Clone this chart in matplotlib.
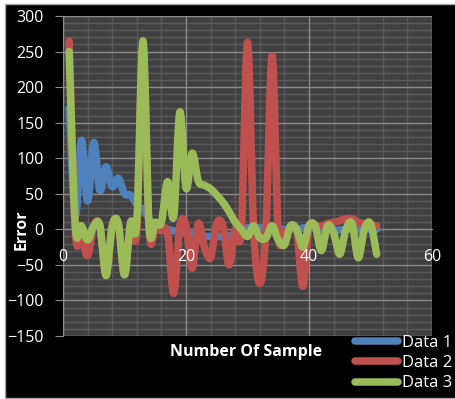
import numpy as np
import matplotlib.pyplot as plt
from matplotlib.path import Path
from matplotlib.patches import PathPatch, Rectangle
from matplotlib.lines import Line2D
from matplotlib.ticker import MultipleLocator

plt.rcParams['font.family'] = ['Open Sans', 'DejaVu Sans']

# sample index
samples = np.arange(1, 52)

data1 = [170, 20, 125, 40, 122, 55, 88, 60, 72, 50,
         48, 35, 28, 15, 5, 2, 0, -2, -3, -5,
         -7, -8, -10, -10, -10, -10, -10, -5, 0, 2,
         2, 2, 2, 2, 0, 0, 0, 0, 2, 2,
         2, 0, 0, -1, -1, 0, 0, 0, 0, 0,
         0]
data2 = [265, -3, -10, -37, 5, 5, -65, 5, 8, -64,
         8, -3, 255, -3, 0, -2, -5, -90, 5, 5,
         -55, 8, -25, -40, 8, 5, -50, 0, 0, 263,
         0, -76, 0, 244, -5, -3, 0, -3, -80, 3,
         5, 5, 8, 10, 12, 15, 15, 10, 8, 6,
         5]
data3 = [250, 5, 5, -15, 5, 5, -65, 5, 8, -64,
         10, 10, 265, 5, 10, 10, 67, 18, 165, 58,
         107, 68, 62, 57, 48, 38, 25, 10, 0, -10,
         5, -12, -12, 5, -15, -22, 5, 0, -25, 5,
         5, -30, 5, -5, -35, 0, 8, -40, 0, 8,
         -35]

series = [('Data 1', data1, '#4f81bd'),
          ('Data 2', data2, '#c0504d'),
          ('Data 3', data3, '#9bbb59')]


def smooth_path(xs, ys):
    # cubic bezier through every point (catmull-rom style tangents)
    pts = np.column_stack([xs, ys]).astype(float)
    n = len(pts)
    verts = [pts[0]]
    codes = [Path.MOVETO]
    for i in range(n - 1):
        p0 = pts[i - 1] if i > 0 else pts[i]
        p1 = pts[i]
        p2 = pts[i + 1]
        p3 = pts[i + 2] if i + 2 < n else pts[i + 1]
        verts += [p1 + (p2 - p0) / 6, p2 - (p3 - p1) / 6, p2]
        codes += [Path.CURVE4] * 3
    return Path(verts, codes)


fig = plt.figure(figsize=(4.56, 3.99), dpi=100)
fig.patch.set_facecolor('white')
fig.add_artist(Rectangle((5 / 456, 1 / 399), 1.0, 394 / 399, transform=fig.transFigure,
                         facecolor='black', edgecolor='#a6a6a6', lw=1, zorder=-5))

ax = fig.add_axes([63 / 456, 63 / 399, 369 / 456, 320 / 399])
ax.set_facecolor('#404040')
ax.set_axisbelow(False)

handles = []
for name, vals, col in series:
    ax.add_patch(PathPatch(smooth_path(samples, vals), fill=False, edgecolor=col,
                           lw=5.4, capstyle='round', joinstyle='round', zorder=2))
    handles.append(Line2D([], [], color=col, lw=5.4, solid_capstyle='round', label=name))

ax.set_xlim(0, 60)
ax.set_ylim(-150, 300)
ax.xaxis.set_major_locator(MultipleLocator(20))
ax.xaxis.set_minor_locator(MultipleLocator(4))
ax.yaxis.set_major_locator(MultipleLocator(50))
ax.yaxis.set_minor_locator(MultipleLocator(10))

# grid drawn under the data, tick labels stay on top of it
for v in ax.xaxis.get_minorticklocs():
    ax.axvline(v, color='#5a5a5a', lw=1, zorder=0.6)
for v in ax.yaxis.get_minorticklocs():
    ax.axhline(v, color='#5a5a5a', lw=1, zorder=0.6)
for v in ax.get_xticks():
    ax.axvline(v, color='#8c8c8c', lw=1, zorder=0.7)
for v in ax.get_yticks():
    ax.axhline(v, color='#8c8c8c', lw=1, zorder=0.7)
ax.set_xlim(0, 60)
ax.set_ylim(-150, 300)

ax.spines['top'].set_visible(False)
ax.spines['right'].set_visible(False)
ax.spines['bottom'].set_position(('data', 0))
ax.spines['bottom'].set_color('#8c8c8c')
ax.spines['bottom'].set_zorder(0.7)
ax.spines['left'].set_color('#8c8c8c')

ax.tick_params(axis='x', which='both', length=0, pad=14, labelsize=11.5, labelcolor='white')
ax.tick_params(axis='y', which='major', length=6, color='#8c8c8c', pad=8,
               labelsize=11.5, labelcolor='white')
ax.tick_params(axis='y', which='minor', length=0)

ax.set_ylabel('Error', color='white', fontsize=11.5, fontweight='bold', va='center')
ax.yaxis.set_label_coords(-0.111, 0.331)
ax.set_xlabel('Number Of Sample', color='white', fontsize=11.5, fontweight='bold', va='center')
ax.xaxis.set_label_coords(0.496, -0.05)

leg = fig.legend(handles=handles, loc='upper left', bbox_to_anchor=(355 / 456, 64 / 399),
                 frameon=False, fontsize=12, handlelength=2.6, handletextpad=0.2,
                 labelspacing=0.25, borderpad=0, borderaxespad=0)
for t in leg.get_texts():
    t.set_color('white')

fig.savefig('out.png', dpi=100, facecolor=fig.get_facecolor())
